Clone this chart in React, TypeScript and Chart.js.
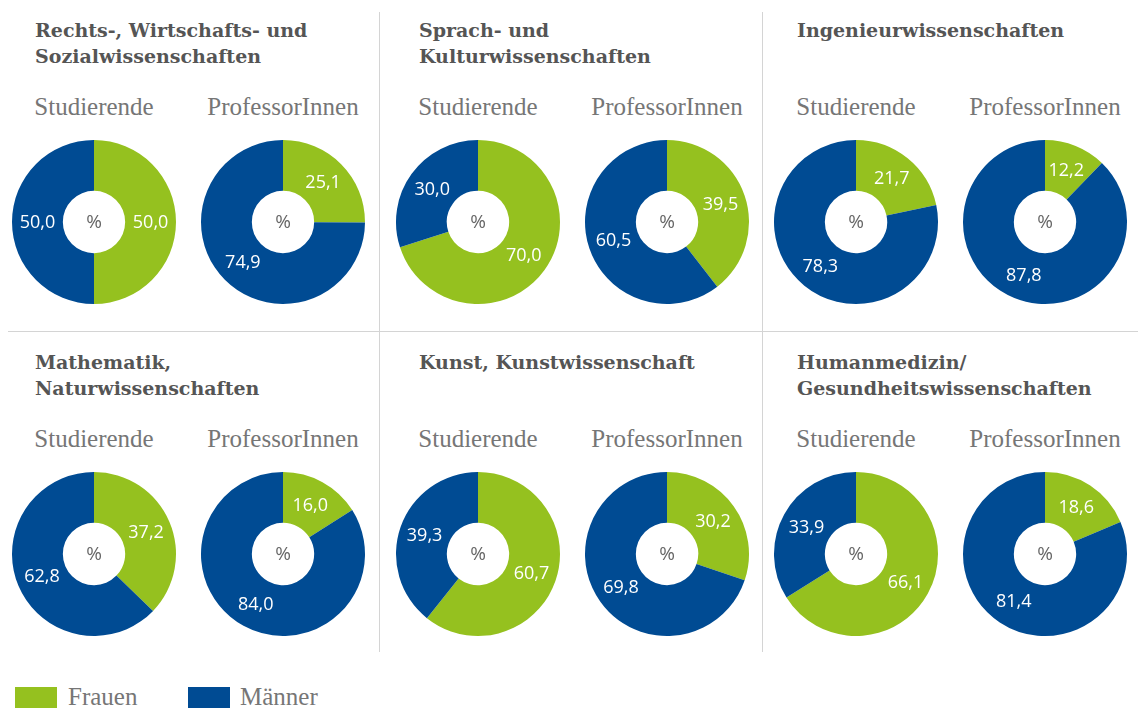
import React, { useEffect, useRef } from "react";
import { Chart, registerables } from "chart.js";

Chart.register(...registerables);

const categories = [
  "Rechts-, Wirtschafts- und\nSozialwissenschaften",
  "Sprach- und\nKulturwissenschaften",
  "Ingenieurwissenschaften",
  "Mathematik,\nNaturwissenschaften",
  "Kunst, Kunstwissenschaft",
  "Humanmedizin/\nGesundheitswissenschaften",
];
const groups = ["Studierende", "ProfessorInnen"];
const genders = ["Frauen", "Männer"];

const frauenStudierende = [50.0, 70.0, 21.7, 37.2, 60.7, 66.1];
const maennerStudierende = [50.0, 30.0, 78.3, 62.8, 39.3, 33.9];
const frauenProfessorInnen = [25.1, 39.5, 12.2, 16.0, 30.2, 18.6];
const maennerProfessorInnen = [74.9, 60.5, 87.8, 84.0, 69.8, 81.4];

const GREEN = "#95c11f";
const BLUE = "#004b93";
const TITLE_COLOR = "#555555";
const SUB_COLOR = "#767676";
const TITLE_FONT = "'DejaVu Serif', 'Liberation Serif', serif";
const SUB_FONT = "'Liberation Serif', 'DejaVu Serif', serif";
const SANS = "'Open Sans', 'Noto Sans', sans-serif";

const fmt = (v: number) => v.toFixed(1).replace(".", ",");

const sliceLabels = {
  id: "sliceLabels",
  afterDatasetsDraw(chart: any) {
    const ctx = chart.ctx;
    const meta = chart.getDatasetMeta(0);
    const ds = chart.data.datasets[0];
    ctx.save();
    ctx.textAlign = "center";
    ctx.textBaseline = "middle";
    ctx.font = `18px ${SANS}`;
    ctx.fillStyle = "#ffffff";
    meta.data.forEach((arc: any, i: number) => {
      const p = arc.getProps(["x", "y", "startAngle", "endAngle", "innerRadius", "outerRadius"], true);
      const mid = (p.startAngle + p.endAngle) / 2;
      const r = (p.innerRadius + p.outerRadius) / 2;
      ctx.fillText(fmt(ds.data[i]), p.x + Math.cos(mid) * r, p.y + Math.sin(mid) * r + 1);
    });
    const a0 = meta.data[0];
    ctx.fillStyle = "#666666";
    ctx.font = `19px ${SANS}`;
    ctx.fillText("%", a0.x, a0.y + 1);
    ctx.restore();
  },
};

const CANVAS = 180;

function Donut({ values, cx, cy }: { values: number[]; cx: number; cy: number }) {
  const ref = useRef<HTMLCanvasElement | null>(null);
  useEffect(() => {
    if (!ref.current) return;
    const chart = new Chart(ref.current, {
      type: "doughnut",
      data: {
        labels: genders,
        datasets: [
          {
            data: values,
            backgroundColor: [GREEN, BLUE],
            borderWidth: 0,
            hoverOffset: 0,
          },
        ],
      },
      options: {
        responsive: false,
        animation: false,
        cutout: "38%",
        layout: { padding: 8 },
        events: [],
        plugins: { legend: { display: false }, tooltip: { enabled: false } },
      },
      plugins: [sliceLabels],
    } as any);
    return () => chart.destroy();
  }, []);
  return (
    <canvas
      ref={ref}
      width={CANVAS}
      height={CANVAS}
      style={{ position: "absolute", left: cx - CANVAS / 2, top: cy - CANVAS / 2, width: CANVAS, height: CANVAS }}
    />
  );
}

const colLefts = [0, 384, 762];
const rowTops = [0, 332];
const pieOffsets = [94, 283];

export default function App() {
  const panels = categories.map((cat, idx) => {
    const col = idx % 3;
    const row = Math.floor(idx / 3);
    const left = colLefts[col];
    const top = rowTops[row];
    const valuesList = [
      [frauenStudierende[idx], maennerStudierende[idx]],
      [frauenProfessorInnen[idx], maennerProfessorInnen[idx]],
    ];
    return (
      <React.Fragment key={cat}>
        <div
          style={{
            position: "absolute",
            left: left + 35,
            top: top + 17,
            font: `bold 19px ${TITLE_FONT}`,
            lineHeight: "26px",
            color: TITLE_COLOR,
            whiteSpace: "pre",
          }}
        >
          {cat}
        </div>
        {groups.map((g, gi) => (
          <div
            key={g}
            style={{
              position: "absolute",
              left: left + pieOffsets[gi] - 90,
              width: 180,
              top: top + 93,
              textAlign: "center",
              font: `25px ${SUB_FONT}`,
              lineHeight: "28px",
              color: SUB_COLOR,
            }}
          >
            {g}
          </div>
        ))}
        {groups.map((g, gi) => (
          <Donut key={"d" + g} values={valuesList[gi]} cx={left + pieOffsets[gi]} cy={top + 222} />
        ))}
      </React.Fragment>
    );
  });

  const line = "#d4d4d4";
  return (
    <div style={{ position: "absolute", left: 0, top: 0, width: 1138, height: 709, background: "#fff", overflow: "hidden" }}>
      <div style={{ position: "absolute", left: 379, top: 12, width: 1, height: 640, background: line }} />
      <div style={{ position: "absolute", left: 762, top: 12, width: 1, height: 640, background: line }} />
      <div style={{ position: "absolute", left: 8, top: 331, width: 1130, height: 1, background: line }} />
      {panels}
      {genders.map((g, i) => (
        <React.Fragment key={g}>
          <div
            style={{
              position: "absolute",
              left: 15 + i * 173,
              top: 687,
              width: 42,
              height: 21,
              background: i === 0 ? GREEN : BLUE,
            }}
          />
          <div
            style={{
              position: "absolute",
              left: 68 + i * 172,
              top: 683,
              font: `25px ${SUB_FONT}`,
              lineHeight: "28px",
              color: SUB_COLOR,
            }}
          >
            {g}
          </div>
        </React.Fragment>
      ))}
    </div>
  );
}
